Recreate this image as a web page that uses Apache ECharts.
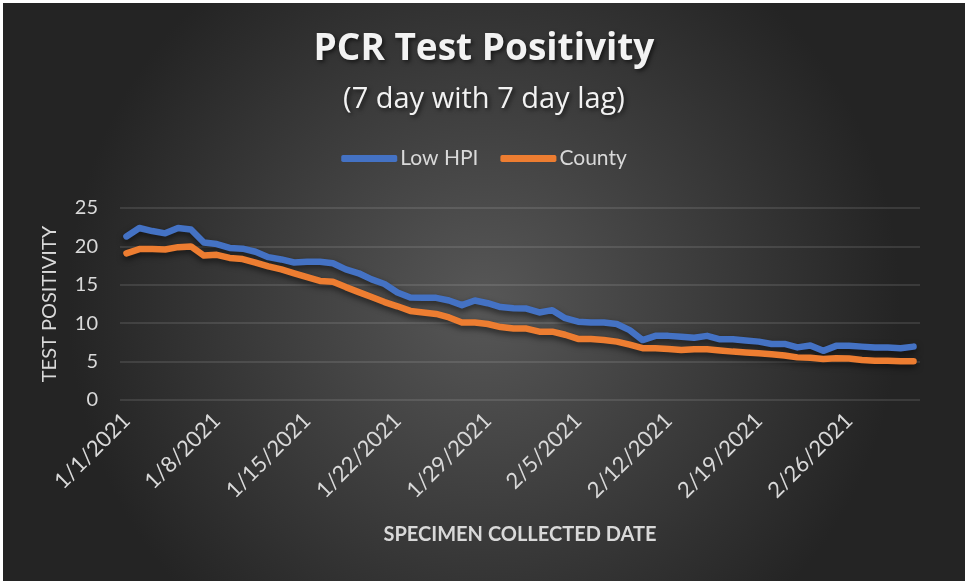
<!DOCTYPE html>
<html>
<head>
<meta charset="utf-8">
<title>PCR Test Positivity</title>
<script src="https://cdn.jsdelivr.net/npm/echarts@6/dist/echarts.min.js"></script>
<style>
    html, body{
        margin: 0;
        padding: 0;
        background: #fff;
    }
    #chart{
        position: absolute;
        left: 3px;
        top: 3px;
        width: 962px;
        height: 578px;
    }
</style>
</head>
<body>
<div id="chart"></div>
<script>
    // specimen collected dates, 1/1/2021 .. 3/3/2021
    var dates = [
        '1/1/2021','1/2/2021','1/3/2021','1/4/2021','1/5/2021','1/6/2021','1/7/2021',
        '1/8/2021','1/9/2021','1/10/2021','1/11/2021','1/12/2021','1/13/2021','1/14/2021',
        '1/15/2021','1/16/2021','1/17/2021','1/18/2021','1/19/2021','1/20/2021','1/21/2021',
        '1/22/2021','1/23/2021','1/24/2021','1/25/2021','1/26/2021','1/27/2021','1/28/2021',
        '1/29/2021','1/30/2021','1/31/2021','2/1/2021','2/2/2021','2/3/2021','2/4/2021',
        '2/5/2021','2/6/2021','2/7/2021','2/8/2021','2/9/2021','2/10/2021','2/11/2021',
        '2/12/2021','2/13/2021','2/14/2021','2/15/2021','2/16/2021','2/17/2021','2/18/2021',
        '2/19/2021','2/20/2021','2/21/2021','2/22/2021','2/23/2021','2/24/2021','2/25/2021',
        '2/26/2021','2/27/2021','2/28/2021','3/1/2021','3/2/2021','3/3/2021'
    ];

    var lowHpi = [
        21.3, 22.4, 22.0, 21.7, 22.4, 22.2, 20.5, 20.3, 19.8, 19.7, 19.3, 18.6, 18.3, 17.9, 18.0, 18.0,
        17.8, 17.0, 16.5, 15.7, 15.1, 14.0, 13.35, 13.3, 13.3, 12.95, 12.35, 12.95, 12.6, 12.1, 11.95,
        11.9, 11.4, 11.7, 10.65, 10.2, 10.1, 10.1, 9.9, 9.1, 7.8, 8.35, 8.35, 8.25, 8.1, 8.35, 7.9,
        7.9, 7.75, 7.6, 7.3, 7.3, 6.85, 7.1, 6.4, 7.05, 7.05, 6.95, 6.85, 6.85, 6.75, 6.95
    ];

    var county = [
        19.1, 19.65, 19.65, 19.6, 19.9, 20.0, 18.8, 18.9, 18.5, 18.35, 17.9, 17.4, 17.0, 16.5, 16.0, 15.5,
        15.4, 14.7, 14.05, 13.4, 12.75, 12.2, 11.6, 11.4, 11.2, 10.75, 10.1, 10.1, 9.9, 9.5, 9.3,
        9.3, 8.9, 8.9, 8.5, 7.95, 7.95, 7.8, 7.6, 7.2, 6.75, 6.75, 6.65, 6.5, 6.6, 6.6, 6.45,
        6.3, 6.2, 6.1, 5.95, 5.8, 5.55, 5.5, 5.35, 5.45, 5.4, 5.2, 5.1, 5.1, 5.05, 5.05
    ];

    var yTicks = [0, 5, 10, 15, 20, 25];

    var font = 'Lato, "Open Sans", sans-serif';
    var titleFont = '"Open Sans", Lato, sans-serif';
    var labelColor = '#d9d9d9';
    var gridColor = 'rgba(255,255,255,0.14)';

    var myChart = echarts.init(document.getElementById('chart'));

    function lineSeries(name, data, color){
        return {
            name: name,
            type: 'line',
            data: data,
            showSymbol: false,
            symbol: 'none',
            smooth: false,
            lineStyle: {
                color: color,
                width: 6.5,
                cap: 'round',
                join: 'round',
                shadowColor: 'rgba(0,0,0,0.55)',
                shadowBlur: 6,
                shadowOffsetY: 3
            },
            itemStyle: { color: color }
        };
    }

    var option = {
        backgroundColor: {
            type: 'radial',
            x: 0.5, y: 0.52, r: 0.72,
            colorStops: [
                { offset: 0, color: '#575757' },
                { offset: 1, color: '#242424' }
            ]
        },
        textStyle: { fontFamily: font },
        title: [
            {
                text: 'PCR Test Positivity',
                left: 'center',
                top: 23,
                textStyle: {
                    fontFamily: titleFont,
                    fontSize: 37,
                    fontWeight: 'bold',
                    color: '#f2f2f2',
                    textShadowColor: 'rgba(0,0,0,0.6)',
                    textShadowBlur: 4,
                    textShadowOffsetX: 2,
                    textShadowOffsetY: 2
                }
            },
            {
                text: '(7 day with 7 day lag)',
                left: 'center',
                top: 77,
                textStyle: {
                    fontFamily: titleFont,
                    fontSize: 29,
                    fontWeight: 'normal',
                    color: '#f2f2f2',
                    textShadowColor: 'rgba(0,0,0,0.6)',
                    textShadowBlur: 4,
                    textShadowOffsetX: 2,
                    textShadowOffsetY: 2
                }
            }
        ],
        legend: {
            top: 140,
            left: 'center',
            icon: 'roundRect',
            itemWidth: 56,
            itemHeight: 7,
            itemGap: 22,
            textStyle: {
                fontFamily: font,
                fontSize: 21,
                color: labelColor,
                padding: [0, 0, 0, -2]
            },
            data: ['Low HPI', 'County']
        },
        grid: {
            left: 117,
            right: 45,
            top: 205,
            bottom: 181
        },
        xAxis: {
            type: 'category',
            data: dates,
            boundaryGap: true,
            name: 'SPECIMEN COLLECTED DATE',
            nameLocation: 'middle',
            nameGap: 125,
            nameTextStyle: {
                fontFamily: font,
                fontSize: 20,
                fontWeight: 'bold',
                color: labelColor
            },
            axisLine: { show: false },
            axisTick: { show: false },
            axisLabel: {
                interval: 6,
                rotate: 45,
                margin: 17,
                fontFamily: font,
                fontSize: 22,
                color: labelColor
            },
            splitLine: { show: false }
        },
        yAxis: {
            type: 'value',
            min: yTicks[0],
            max: yTicks[yTicks.length - 1],
            interval: 5,
            name: 'TEST POSITIVITY',
            nameLocation: 'middle',
            nameGap: 60,
            nameTextStyle: {
                fontFamily: font,
                fontSize: 20,
                color: labelColor
            },
            axisLine: { show: false },
            axisTick: { show: false },
            axisLabel: {
                margin: 22,
                fontFamily: font,
                fontSize: 20,
                color: labelColor
            },
            splitLine: {
                lineStyle: { color: gridColor, width: 1.5 }
            }
        },
        series: [
            lineSeries('Low HPI', lowHpi, '#4472c4'),
            lineSeries('County', county, '#ed7d31')
        ]
    };

    myChart.setOption(option);
</script>
</body>
</html>
